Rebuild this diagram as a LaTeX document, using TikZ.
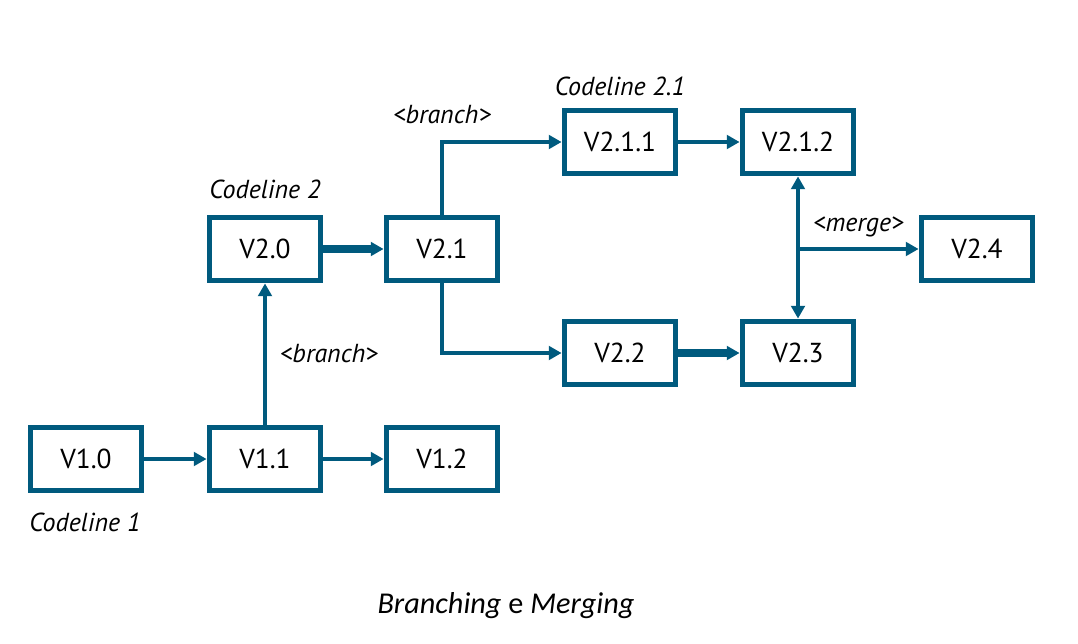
\documentclass[tikz,border=0pt]{standalone}
\usepackage{fontspec}
\setmainfont{PT Sans}
\newfontfamily\capfont{Carlito}
\usetikzlibrary{arrows.meta}
\usetikzlibrary{calc,positioning}

\definecolor{petrol}{RGB}{0,90,126}

\tikzset{
    version/.style={draw=petrol, line width=0.14cm, minimum width=2.78cm, minimum height=1.58cm,
        font=\fontsize{19.5}{22}\selectfont, fill=white},
    conn/.style={draw=petrol, line width=0.115cm},
    thickconn/.style={draw=petrol, line width=0.18cm},
    lbl/.style={font=\fontsize{18.5}{21}\selectfont\itshape, inner sep=1pt}
}

\begin{document}
\begin{tikzpicture}[x=0.025cm, y=-0.025cm, >={Triangle[length=0.32cm,width=0.34cm]}]
    \useasboundingbox (0,0) rectangle (1078,644);
    
    % codeline 1
    \node[version] (v10) at (86,459) {V1.0};
    \node[version] (v11) at (265,459) {V1.1};
    \node[version] (v12) at (442,459) {V1.2};
    
    % codeline 2
    \node[version] (v20) at (265,249) {V2.0};
    \node[version] (v21) at (442,249) {V2.1};
    \node[version] (v22) at (620,353) {V2.2};
    \node[version] (v23) at (798,353) {V2.3};
    \node[version] (v24) at (977,249) {V2.4};
    
    % codeline 2.1
    \node[version] (v211) at (620,142) {V2.1.1};
    \node[version] (v212) at (798,142) {V2.1.2};
    
    \node[lbl] (cl1) at (85,522) {Codeline 1};
    \node[lbl] (cl2) at (265,189) {Codeline 2};
    \node[lbl] (cl21) at (620,86) {Codeline 2.1};
    
    \draw[conn, ->] (v10) -- (v11);
    \draw[conn, ->] (v11) -- (v12);
    \draw[conn, ->] (v11) -- node[lbl, right=8pt]{<branch>} (v20);
    \draw[thickconn, ->] (v20) -- (v21);
    
    \draw[conn, ->] (v21.north) |- node[lbl, pos=0.5, above=10pt]{<branch>} (v211.west);
    \draw[conn, ->] (v21.south) |- (v22.west);
    \draw[conn, ->] (v211) -- (v212);
    \draw[thickconn, ->] (v22) -- (v23);
    
    \coordinate (mrg) at (v212 |- v24);
    \draw[conn, <->] (v212) -- (v23);
    \draw[conn, ->] (mrg) -- node[lbl, above=6pt]{<merge>} (v24);
    
    \node[font=\capfont\fontsize{21.5}{25}\selectfont] (title) at (506,606) {\textit{Branching} e \textit{Merging}};
    
\end{tikzpicture}
\end{document}
